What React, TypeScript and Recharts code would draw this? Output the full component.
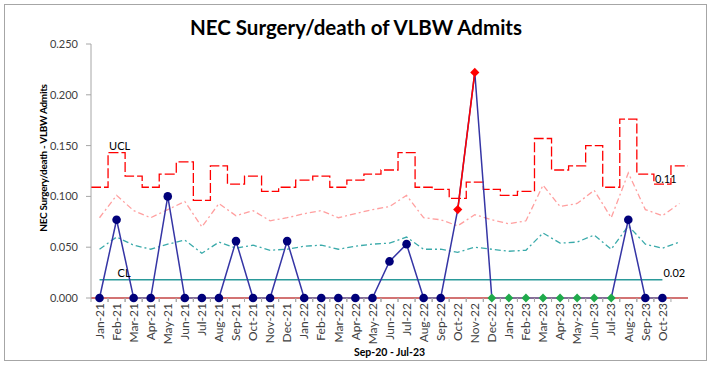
import React from "react";
import { LineChart, Line, XAxis, YAxis } from "recharts";

const months = [
  "Jan-21", "Feb-21", "Mar-21", "Apr-21", "May-21", "Jun-21", "Jul-21", "Aug-21", "Sep-21", "Oct-21", "Nov-21", "Dec-21",
  "Jan-22", "Feb-22", "Mar-22", "Apr-22", "May-22", "Jun-22", "Jul-22", "Aug-22", "Sep-22", "Oct-22", "Nov-22", "Dec-22",
  "Jan-23", "Feb-23", "Mar-23", "Apr-23", "May-23", "Jun-23", "Jul-23", "Aug-23", "Sep-23", "Oct-23",
];

// NEC surgery/death rate per month
const rates = [
  0, 0.077, 0, 0, 0.1, 0, 0, 0, 0.056, 0, 0, 0.056,
  0, 0, 0, 0, 0, 0.036, 0.053, 0, 0, 0.087, 0.222, 0,
  0, 0, 0, 0, 0, 0, 0, 0.077, 0, 0,
];

// limits have one extra trailing slot with no data
const ucl = [
  0.109, 0.143, 0.12, 0.109, 0.122, 0.134, 0.096, 0.13, 0.112, 0.12, 0.105, 0.109,
  0.116, 0.12, 0.109, 0.116, 0.122, 0.126, 0.143, 0.109, 0.107, 0.098, 0.114, 0.107,
  0.101, 0.105, 0.157, 0.126, 0.13, 0.15, 0.109, 0.176, 0.122, 0.112, 0.13,
];
const upper2 = [
  0.079, 0.101, 0.086, 0.079, 0.087, 0.095, 0.07, 0.093, 0.081, 0.086, 0.076, 0.079,
  0.083, 0.086, 0.079, 0.083, 0.087, 0.09, 0.101, 0.079, 0.077, 0.071, 0.082, 0.077,
  0.073, 0.076, 0.111, 0.09, 0.093, 0.106, 0.079, 0.123, 0.087, 0.081, 0.093,
];
const upper1 = [
  0.048, 0.06, 0.052, 0.048, 0.053, 0.057, 0.044, 0.055, 0.049, 0.052, 0.047, 0.048,
  0.051, 0.052, 0.048, 0.051, 0.053, 0.054, 0.06, 0.048, 0.048, 0.045, 0.05, 0.048,
  0.046, 0.047, 0.064, 0.054, 0.055, 0.062, 0.048, 0.071, 0.053, 0.049, 0.055,
];
const centerLine = 0.018;
const lcl = 0;

const outOfControl = ["Oct-22", "Nov-22"];
const runPoints = ["Dec-22", "Jan-23", "Feb-23", "Mar-23", "Apr-23", "May-23", "Jun-23", "Jul-23"];
const yTicks = [0, 0.05, 0.1, 0.15, 0.2, 0.25];

const rows = ucl.map((_, i) => {
  const m = months[i] ?? "";
  const has = i < rates.length;
  return {
    x: i,
    month: m,
    rate: has ? rates[i] : null,
    out: outOfControl.includes(m) ? rates[i] : null,
    run: runPoints.includes(m) ? rates[i] : null,
    cl: has ? centerLine : null,
    s2: upper2[i],
    s1: upper1[i],
  };
});

const steps = ucl
  .map((v, i) => ({ x: i - 0.5, ucl: v, lcl }))
  .concat({ x: ucl.length - 0.5, ucl: ucl[ucl.length - 1], lcl });

const W = 712;
const H = 367;
const LEFT = 91;
const RIGHT = 24;
const BAND = (W - LEFT - RIGHT) / ucl.length;
const FONT = "Lato, 'Open Sans', sans-serif";

const diamond = (cx: number, cy: number, r: number) =>
  `M${cx},${cy - r}L${cx + r},${cy}L${cx},${cy + r}L${cx - r},${cy}Z`;

const XTick = (props: any) => {
  const { x, y, payload } = props;
  const label = months[payload.value] ?? "";
  return (
    <g>
      <line x1={x - BAND / 2} x2={x - BAND / 2} y1={y} y2={y + 4} stroke="#A6A6A6" />
      <line x1={x + BAND / 2} x2={x + BAND / 2} y1={y} y2={y + 4} stroke="#A6A6A6" />
      <text
        transform={`translate(${x},${y + 5}) rotate(-90)`}
        textAnchor="end"
        dy="0.35em"
        fontSize={12}
        fontFamily={FONT}
        fill="#404040"
      >
        {label}
      </text>
    </g>
  );
};

const renderDot = (p: any) => {
  const { cx, cy, index, payload } = p;
  const skip = outOfControl.includes(payload.month) || runPoints.includes(payload.month);
  if (cy == null || payload.rate == null || skip) return <g key={`d${index}`} />;
  return <circle key={`d${index}`} cx={cx} cy={cy} r={4.3} fill="#00007A" />;
};

const diamondDot = (key: string, color: string, r: number) => (p: any) => {
  const { cx, cy, index, payload } = p;
  if (cy == null || payload[key] == null) return <g key={`${key}${index}`} />;
  return <path key={`${key}${index}`} d={diamond(cx, cy, r)} fill={color} />;
};

const clLabel = (p: any) => {
  const txt = p.index === 1 ? "CL" : p.index === months.length - 1 ? centerLine.toFixed(2) : null;
  if (!txt) return <g key={`c${p.index}`} />;
  return (
    <text key={`c${p.index}`} x={p.x + 1} y={p.y - 3} fontSize={11} fontFamily={FONT} fill="#000">
      {txt}
    </text>
  );
};

const uclLabel = (p: any) => {
  let txt: string | null = null;
  let dy = -3;
  if (p.index === 1) txt = "UCL";
  if (p.index === months.length - 1) {
    txt = ucl[p.index].toFixed(2);
    dy = -1;
  }
  if (!txt) return <g key={`u${p.index}`} />;
  return (
    <text key={`u${p.index}`} x={p.x + 1} y={p.y + dy} fontSize={11} fontFamily={FONT} fill="#000">
      {txt}
    </text>
  );
};

export default function App() {
  return (
    <div style={{ position: "absolute", left: 0, top: 0, width: W, height: H, background: "#fff", fontFamily: FONT }}>
      <div
        style={{
          position: "absolute",
          left: 4,
          top: 4,
          width: 703,
          height: 357,
          boxSizing: "border-box",
          border: "1px solid #A6A6A6",
        }}
      />
      <div
        style={{
          position: "absolute",
          left: 0,
          width: W,
          top: 15,
          textAlign: "center",
          fontSize: 20.5,
          fontWeight: 700,
          lineHeight: "24px",
          color: "#000",
        }}
      >
        NEC Surgery/death of VLBW Admits
      </div>
      <div
        style={{
          position: "absolute",
          left: 43 - 100,
          top: 158 - 8,
          width: 200,
          height: 16,
          lineHeight: "16px",
          textAlign: "center",
          transform: "rotate(-90deg)",
          fontSize: 10,
          letterSpacing: -0.3,
          fontWeight: 700,
          color: "#000",
          whiteSpace: "nowrap",
        }}
      >
        NEC Surgery/death - VLBW Admits
      </div>
      <div
        style={{
          position: "absolute",
          left: LEFT,
          width: W - LEFT - RIGHT,
          top: 344,
          textAlign: "center",
          fontSize: 10.5,
          fontWeight: 700,
          lineHeight: "16px",
          color: "#000",
        }}
      >
        Sep-20 - Jul-23
      </div>
      <div style={{ position: "absolute", left: 0, top: 0 }}>
        <LineChart width={W} height={H} data={rows} margin={{ top: 44, right: RIGHT, left: 0, bottom: 0 }}>
          <XAxis
            dataKey="x"
            type="number"
            domain={[-0.5, ucl.length - 0.5]}
            ticks={months.map((_, i) => i)}
            interval={0}
            height={69}
            tickSize={0}
            tickMargin={0}
            tickLine={false}
            axisLine={{ stroke: "#A6A6A6" }}
            tick={<XTick />}
          />
          <YAxis
            domain={[0, 0.25]}
            ticks={yTicks}
            width={LEFT}
            tickSize={5}
            tickMargin={8}
            tickFormatter={(v: number) => v.toFixed(3)}
            tick={{ fontSize: 11, fill: "#404040", fontFamily: FONT }}
            axisLine={{ stroke: "#A6A6A6" }}
            tickLine={{ stroke: "#A6A6A6" }}
          />
          <Line
            dataKey="s2"
            stroke="#FF9F9F"
            strokeWidth={1.3}
            strokeDasharray="6 3 2 3"
            dot={false}
            isAnimationActive={false}
          />
          <Line
            dataKey="s1"
            stroke="#3AAAAA"
            strokeWidth={1.3}
            strokeDasharray="6 3 2 3"
            dot={false}
            isAnimationActive={false}
          />
          <Line
            dataKey="cl"
            stroke="#2A9A9A"
            strokeWidth={1.5}
            dot={false}
            label={clLabel}
            isAnimationActive={false}
          />
          <Line
            data={steps}
            dataKey="lcl"
            type="stepAfter"
            stroke="#FF0000"
            strokeWidth={1.5}
            dot={false}
            isAnimationActive={false}
          />
          <Line
            data={steps}
            dataKey="ucl"
            type="stepAfter"
            stroke="#FF0000"
            strokeWidth={1.3}
            strokeDasharray="10 3"
            dot={false}
            label={uclLabel}
            isAnimationActive={false}
          />
          <Line
            dataKey="rate"
            stroke="#3535A5"
            strokeWidth={1.5}
            dot={renderDot}
            isAnimationActive={false}
          />
          <Line
            dataKey="out"
            stroke="#FF0000"
            strokeWidth={1.5}
            dot={diamondDot("out", "#FF0000", 4.6)}
            isAnimationActive={false}
          />
          <Line
            dataKey="run"
            stroke="#1FAA4B"
            strokeWidth={0}
            dot={diamondDot("run", "#1FAA4B", 4.4)}
            isAnimationActive={false}
          />
        </LineChart>
      </div>
    </div>
  );
}
